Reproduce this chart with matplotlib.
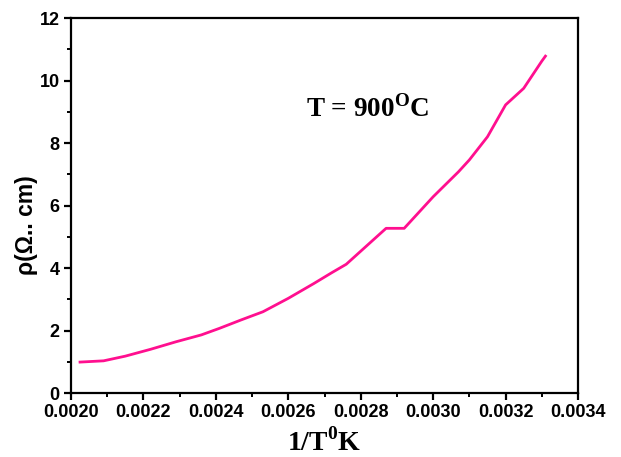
#!/usr/bin/env python3
"""Resistivity vs inverse temperature (sample sintered at 900 C)."""

import matplotlib
matplotlib.use("Agg")
import matplotlib.pyplot as plt
from matplotlib.ticker import MultipleLocator, FormatStrFormatter

# =============================================================================
# DATA
# =============================================================================
INV_T = [0.002025, 0.00209, 0.00215, 0.00222, 0.00229, 0.00236, 0.00241,
         0.00247, 0.00253, 0.00260, 0.00267, 0.00272, 0.00276, 0.00287,
         0.00292, 0.00300, 0.00307, 0.00310, 0.00315, 0.00320, 0.00325,
         0.00330, 0.00331]
RHO = [0.99, 1.03, 1.18, 1.40, 1.64, 1.86, 2.07,
       2.34, 2.60, 3.03, 3.50, 3.85, 4.12, 5.27,
       5.27, 6.28, 7.08, 7.46, 8.20, 9.22, 9.75,
       10.62, 10.78]

# =============================================================================
# STYLE
# =============================================================================
LINE_COLOR = "#ff0f8f"
SANS = "Liberation Sans"
SERIF = "Liberation Serif"
TICK_FONTSIZE = 13

plt.rcParams["mathtext.fontset"] = "custom"
plt.rcParams["mathtext.rm"] = "Liberation Serif:bold"
plt.rcParams["mathtext.bf"] = "Liberation Serif:bold"


def main() -> None:
    fig = plt.figure(figsize=(6.21, 4.57), dpi=100)
    ax = fig.add_axes([0.1143, 0.1400, 0.8165, 0.8206])

    ax.plot(INV_T, RHO, color=LINE_COLOR, linewidth=2.0)

    ax.set_xlim(0.0020, 0.0034)
    ax.set_ylim(0, 12)
    ax.xaxis.set_major_locator(MultipleLocator(0.0002))
    ax.xaxis.set_minor_locator(MultipleLocator(0.0001))
    ax.yaxis.set_major_locator(MultipleLocator(2))
    ax.yaxis.set_minor_locator(MultipleLocator(1))
    ax.xaxis.set_major_formatter(FormatStrFormatter("%.4f"))
    ax.yaxis.set_major_formatter(FormatStrFormatter("%d"))

    for sp in ax.spines.values():
        sp.set_linewidth(1.6)
    ax.tick_params(which="major", direction="out", length=5, width=1.6,
                   labelsize=TICK_FONTSIZE, pad=3)
    ax.tick_params(which="minor", direction="out", length=3, width=1.4)
    for lab in ax.get_xticklabels() + ax.get_yticklabels():
        lab.set_fontfamily(SANS)
        lab.set_fontweight("bold")

    ax.set_ylabel("ρ(Ω.. cm)", fontsize=16.5, fontfamily=SANS,
                  fontweight="bold")
    ax.yaxis.set_label_coords(-0.065, 0.448)
    ax.set_xlabel(r"1/T$^{\mathbf{0}}$K", fontsize=20, fontfamily=SERIF,
                  fontweight="bold")
    ax.xaxis.set_label_coords(0.50, -0.093)

    ax.text(0.00265, 9.1, r"T = 900$^{\mathbf{O}}$C", fontsize=19.5,
            fontfamily=SERIF, fontweight="bold", va="center", ha="left")

    fig.savefig("out.png", dpi=100)
    plt.close(fig)


if __name__ == "__main__":
    main()
